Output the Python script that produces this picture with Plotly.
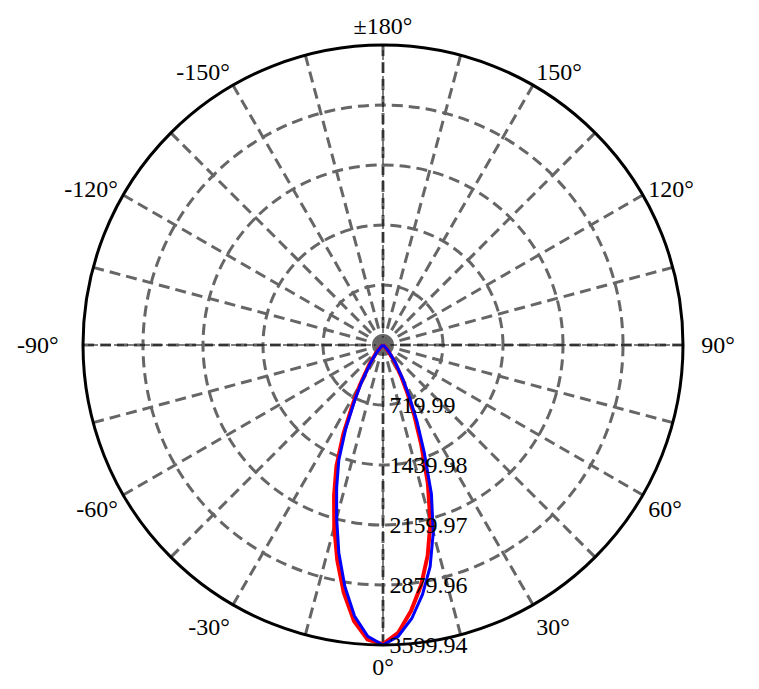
import plotly.graph_objects as go

# Luminous intensity distribution (cd) - two C-planes
ANGLES = [-180, -90, -60, -50, -45, -40, -35, -30, -27, -24, -21, -18, -15, -12, -9, -6, -3,
          0, 3, 6, 9, 12, 15, 18, 21, 24, 27, 30, 35, 40, 45, 50, 60, 90, 180]
RED = [0, 0, 0, 25, 60, 140, 290, 560, 800, 1170, 1560, 1900, 2260, 2640, 3010, 3330, 3540,
       3590, 3460, 3210, 2920, 2580, 2200, 1740, 1280, 920, 640, 440, 230, 100, 40, 15, 0, 0, 0]
BLUE = [0, 0, 0, 20, 50, 120, 260, 520, 750, 1100, 1480, 1800, 2150, 2550, 2930, 3270, 3500,
        3600, 3500, 3300, 3030, 2720, 2330, 1880, 1380, 1000, 700, 480, 260, 120, 50, 20, 0, 0, 0]

R_MAX = 3599.94
R_TICKS = [719.99, 1439.98, 2159.97, 2879.96, 3599.94]
R_TICK_TEXT = ["\u00a0719.99", "\u00a01439.98", "\u00a02159.97", "\u00a02879.96", "\u00a03599.94"]

A_TICKS = list(range(0, 360, 15))
A_LABELS = {0: "0°", 30: "30°", 60: "60°", 90: "\u00a0\u00a090°", 120: "120°", 150: "150°",
            180: "±180°", 210: "-150°", 240: "-120°", 270: "-90°\u00a0\u00a0\u00a0",
            300: "-60°", 330: "-30°"}
A_TICK_TEXT = [A_LABELS.get(a, "") for a in A_TICKS]

FONT = "Liberation Serif"
GRID = "#666666"
GRID_DASH = "11px,6px"

fig = go.Figure()

# thin black cross-hair along the main axes
fig.add_trace(go.Scatterpolar(r=[R_MAX, 0, R_MAX], theta=[90, 90, 270], mode="lines",
                              line=dict(color="black", width=1, dash="10px,3px"),
                              hoverinfo="skip", showlegend=False))
fig.add_trace(go.Scatterpolar(r=[R_MAX, 0, R_MAX], theta=[0, 0, 180], mode="lines",
                              line=dict(color="black", width=1, dash="10px,3px"),
                              hoverinfo="skip", showlegend=False))
# grey hub where the dashed spokes meet
fig.add_trace(go.Scatterpolar(r=[0], theta=[0], mode="markers",
                              marker=dict(color=GRID, size=15),
                              hoverinfo="skip", showlegend=False))

fig.add_trace(go.Scatterpolar(r=RED, theta=ANGLES, mode="lines",
                              line=dict(color="#ff0000", width=4), showlegend=False))
fig.add_trace(go.Scatterpolar(r=BLUE, theta=ANGLES, mode="lines",
                              line=dict(color="#0000ff", width=3), showlegend=False))

# body of the html page has an 8px margin, so margins are shifted to compensate
fig.update_layout(
    width=759, height=689,
    paper_bgcolor="white",
    margin=dict(l=75, r=84, t=37, b=52),
    font=dict(family=FONT, size=24, color="black"),
    polar=dict(
        bgcolor="white",
        angularaxis=dict(
            rotation=-90, direction="counterclockwise",
            tickmode="array", tickvals=A_TICKS, ticktext=A_TICK_TEXT,
            showgrid=True, gridcolor=GRID, gridwidth=3, griddash=GRID_DASH,
            showline=True, linecolor="black", linewidth=3,
            ticks="", tickfont=dict(family=FONT, size=24, color="black"),
        ),
        radialaxis=dict(
            range=[0, R_MAX], angle=-90, side="counterclockwise", tickangle=-90,
            tickmode="array", tickvals=R_TICKS, ticktext=R_TICK_TEXT,
            showgrid=True, gridcolor=GRID, gridwidth=3, griddash=GRID_DASH,
            showline=False, ticks="",
            tickfont=dict(family=FONT, size=24, color="black"),
        ),
    ),
)

fig.write_html("out.html")
